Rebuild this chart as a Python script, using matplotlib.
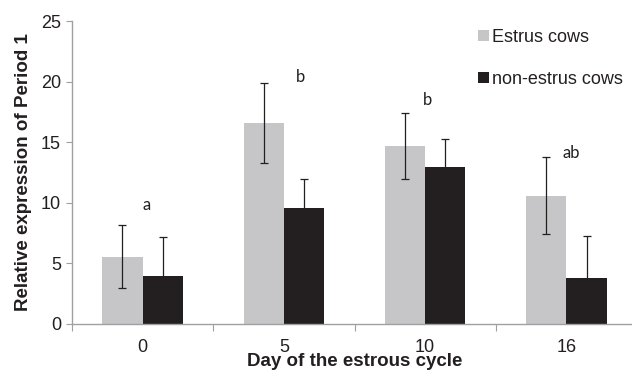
import matplotlib
matplotlib.use("Agg")
import matplotlib.pyplot as plt
import numpy as np
from matplotlib.patches import Patch

days = ["0", "5", "10", "16"]
estrus = [5.55, 16.6, 14.7, 10.6]
estrus_err = [2.6, 3.3, 2.7, 3.2]
non_estrus = [4.0, 9.55, 12.95, 3.8]
non_estrus_err = [3.2, 2.4, 2.35, 3.5]
letters = ["a", "b", "b", "ab"]
letter_y = [9.8, 20.4, 18.5, 14.1]
letter_dx = [0.03, 0.117, 0.016, 0.037]

plt.rcParams['font.family'] = ['Liberation Sans', 'DejaVu Sans']

W, H = 632, 371
fig = plt.figure(figsize=(W/100, H/100), dpi=100)
ax = fig.add_axes([72/W, (371-324)/H, (637-72)/W, 303/H])

gray = "#c6c6c8"
black = "#231f20"
spine = "#a0a0a0"
x = np.arange(len(days))
bw = 0.285
ax.bar(x - bw/2, estrus, bw, color=gray, zorder=2)
ax.bar(x + bw/2, non_estrus, bw, color=black, zorder=2)
ax.errorbar(x - bw/2, estrus, yerr=estrus_err, fmt="none", ecolor=black,
            elinewidth=0.9, capsize=3, capthick=0.9, zorder=3)
ax.errorbar(x + bw/2, non_estrus, yerr=non_estrus_err, fmt="none", ecolor=black,
            elinewidth=0.9, capsize=3, capthick=0.9, zorder=3)

for i, (t, yv, dx) in enumerate(zip(letters, letter_y, letter_dx)):
    ax.text(i + dx, yv, t, ha="center", va="center", fontsize=12,
            family=["Lato", "DejaVu Sans"], color=black)

ax.set_xlim(-0.5, 3.5)
ax.set_ylim(0, 25)
ax.set_yticks([0, 5, 10, 15, 20, 25])
ax.set_xticks(np.arange(-0.5, 4.0, 1.0))
ax.set_xticklabels([])
ax.set_xticks(x, minor=True)
ax.set_xticklabels(days, minor=True)
ax.tick_params(axis="x", which="major", length=5, color=spine, direction="out")
ax.tick_params(axis="x", which="minor", length=0, pad=11, labelsize=13, labelcolor=black)
ax.tick_params(axis="y", length=4, color=spine, pad=4, labelsize=13, labelcolor=black)

for s in ["top", "right"]:
    ax.spines[s].set_visible(False)
for s in ["left", "bottom"]:
    ax.spines[s].set_color(spine)
    ax.spines[s].set_linewidth(1.0)

ax.set_ylabel("Relative expression of Period 1", fontsize=13.5, fontweight="bold",
              color=black, labelpad=6)
ax.set_xlabel("Day of the estrous cycle", fontsize=13.5, fontweight="bold",
              color=black, labelpad=-2.5)

handles = [Patch(facecolor=gray, edgecolor="none", label="Estrus cows"),
           Patch(facecolor=black, edgecolor="none", label="non-estrus cows")]
fig.legend(handles=handles, loc="upper left", bbox_to_anchor=(478/W, (371-29)/H),
           frameon=False, fontsize=13, handlelength=0.6, handleheight=0.6,
           handletextpad=0.15, labelspacing=1.38, borderpad=0, borderaxespad=0,
           labelcolor=black)

fig.savefig("out.png", dpi=100)
